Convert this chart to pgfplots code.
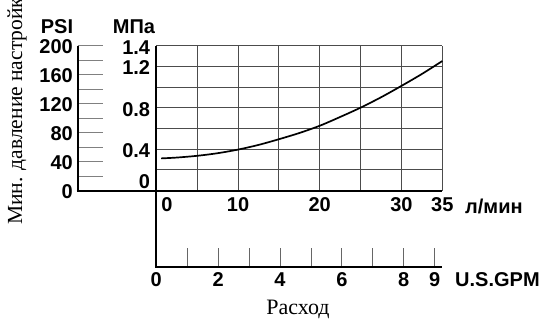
\documentclass[border=0pt]{standalone}
\usepackage{pgfplots}
\pgfplotsset{compat=1.18}
\usepackage{fontspec}
\setmainfont{Liberation Sans}
\newfontfamily\seriffont{Liberation Serif}
\begin{document}
\begin{tikzpicture}[x=1pt,y=1pt]
\pgfplotsset{every axis/.append style={scale only axis, clip=false,
  font=\fontsize{20}{22}\selectfont\bfseries,
  /pgf/number format/assume math mode=true}}
% PSI axis
\begin{axis}[at={(77.5pt,134.5pt)}, anchor=south west, width=78.8pt, height=145pt,
  xmin=0, xmax=1, ymin=0, ymax=200,
  axis line style={draw=none}, xtick=\empty,
  ytick={0,20,40,60,80,100,120,140,160,180,200},
  yticklabels={0,,40,,80,,120,,160,,200},
  ytick pos=left, tick align=inside, major tick length=25pt,
  ytick style={gray, line width=0.8pt},
  yticklabel style={inner sep=0pt, xshift=-4.5pt, text height=14.3pt, text depth=0pt, yshift=-1pt}]
\end{axis}
% Main axis (l/min vs MPa)
\begin{axis}[at={(156.3pt,134.5pt)}, anchor=south west, width=286pt, height=145pt,
  xmin=0, xmax=35, ymin=0, ymax=1.4,
  axis line style={draw=none},
  xtick={0,5,10,15,20,25,30,35},
  xticklabels={\makebox[0pt][l]{\hspace{5pt}0},,10,,20,,30,35},
  ytick={0,0.2,0.4,0.6,0.8,1.0,1.2,1.4},
  yticklabels={,,0.4,,0.8,,1.2,1.4},
  extra y ticks={0}, extra y tick labels={0},
  extra y tick style={grid=none, yticklabel style={yshift=11pt}},
  grid=major, grid style={line width=0.8pt, black!70},
  major tick length=0pt,
  xticklabel style={inner sep=0pt, yshift=-6.5pt, text height=14.3pt, text depth=0pt},
  yticklabel style={inner sep=0pt, xshift=-6pt, text height=14.3pt, text depth=0pt, yshift=-1.5pt}]
\addplot[black, line width=1.7pt, smooth] coordinates {
  (0.6,0.31) (2.5,0.318) (5,0.335) (7.5,0.36) (10,0.395) (12.5,0.44)
  (15,0.495) (17.5,0.555) (20,0.625) (22.5,0.71) (25,0.80) (27.5,0.90)
  (30,1.01) (32.5,1.125) (35,1.25)};
\end{axis}
% GPM axis
\begin{axis}[at={(156.3pt,58pt)}, anchor=south west, width=286pt, height=76.5pt,
  xmin=0, xmax=9.2470, ymin=0, ymax=1,
  axis line style={draw=none}, ytick=\empty,
  xtick={0,1,2,3,4,5,6,7,8,9},
  xticklabels={0,,2,,4,,6,,8,9},
  xtick pos=bottom, tick align=inside, major tick length=19.5pt,
  xtick style={black!60, line width=0.8pt},
  xticklabel style={inner sep=0pt, yshift=-5pt, text height=14.3pt, text depth=0pt}]
\end{axis}
% axis lines
\draw[line width=2pt] (77.5,279.5) -- (77.5,134.5);
\draw[line width=2pt] (76.5,134.5) -- (442.3,134.5);
\draw[line width=2pt] (156.3,279.5) -- (156.3,57);
\draw[line width=2pt] (155.3,58) -- (442.3,58);
% labels
\node[font=\fontsize{20}{22}\selectfont\bfseries, anchor=base west, inner sep=0pt] at (465,112) {л/мин};
\node[font=\fontsize{20}{22}\selectfont\bfseries, anchor=base west, inner sep=0pt] at (455,39) {U.S.GPM};
\node[font=\fontsize{20}{22}\selectfont\bfseries, anchor=base, inner sep=0pt] at (57,291) {PSI};
\node[font=\fontsize{20}{22}\selectfont\bfseries, anchor=base, inner sep=0pt] at (134,291) {МПа};
\node[font=\seriffont\fontsize{22}{24}\selectfont, anchor=base, inner sep=0pt] at (298,11) {Расход};
\node[font=\seriffont\fontsize{21.5}{24}\selectfont, rotate=90, anchor=base west, inner sep=0pt] at (22,100) {Мин. давление настройки};
\pgfresetboundingbox
\useasboundingbox (0,0) rectangle (547,325);
\end{tikzpicture}
\end{document}
